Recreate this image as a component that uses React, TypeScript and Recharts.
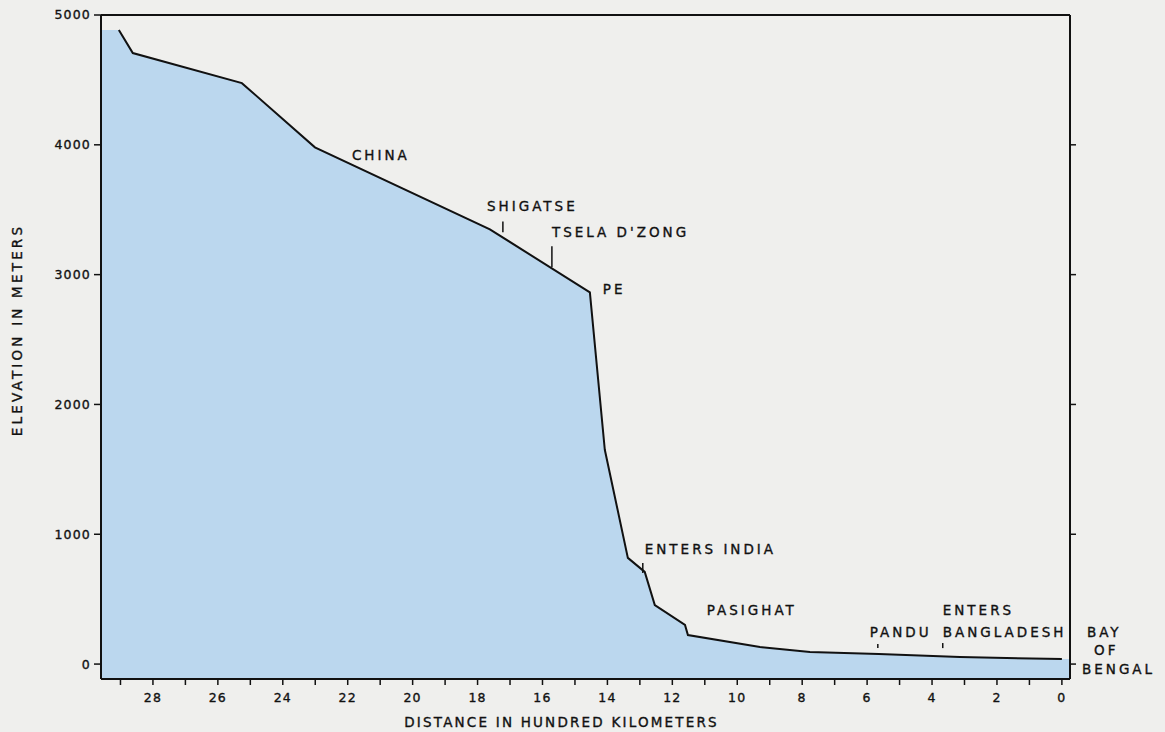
import React from 'react';
import {
  ComposedChart,
  Area,
  Line,
  XAxis,
  YAxis,
  Label,
  ReferenceLine,
  ReferenceDot,
} from 'recharts';

// River profile (distance in hundred km, elevation in m)
const DIST = [29.05, 28.62, 25.26, 23.01, 17.62, 14.54, 14.08, 13.37, 12.85, 12.54, 11.61, 11.52, 9.3, 7.76, 5.64, 3.14, 0];
const ELEV = [4884, 4707, 4475, 3981, 3349, 2863, 1651, 818, 710, 455, 301, 224, 131, 93, 77, 54, 39];

// axis ranges and ticks
const X_MIN = -0.25;
const X_MAX = 29.6;
const Y_MIN = -115;
const Y_MAX = 5000;
const X_TICKS = [0, 1, 2, 3, 4, 5, 6, 7, 8, 9, 10, 11, 12, 13, 14, 15, 16, 17, 18, 19, 20, 21, 22, 23, 24, 25, 26, 27, 28, 29];
const Y_TICKS = [0, 1000, 2000, 3000, 4000, 5000];

// place names
const LABEL_TEXT = ['CHINA', 'SHIGATSE', "TSELA D'ZONG", 'PE', 'ENTERS INDIA', 'PASIGHAT', 'PANDU', 'ENTERS', 'BANGLADESH', 'BAY', 'OF', 'BENGAL'];
const LABEL_DIST = [21.87, 17.71, 15.71, 14.14, 12.85, 10.94, 5.92, 3.67, 3.67, -0.77, -0.99, -0.62];
const LABEL_ELEV = [3920, 3526, 3326, 2886, 887, 417, 247, 417, 247, 247, 108, -39];

// small vertical markers on the profile
const MARK_DIST = [17.22, 15.71, 12.91, 5.67, 3.67];
const MARK_LOW = [3326, 3056, 702, 123, 123];
const MARK_HIGH = [3410, 3218, 779, 154, 162];

const INK = '#111';
const FONT = '"DejaVu Sans", sans-serif';

const profile = DIST.map((d, i) => ({ dist: d, elev: ELEV[i] }));
// shading runs flat out to both frame edges
const shade = [
  { dist: X_MAX, elev: ELEV[0] },
  ...profile,
  { dist: X_MIN, elev: ELEV[ELEV.length - 1] },
];

const heavy = { stroke: INK, strokeWidth: 0.35 };
const tickStyle = { fill: INK, fontFamily: FONT, fontSize: 12.5, letterSpacing: 1.2, ...heavy };

export default function App() {
  return (
    <div style={{ position: 'absolute', left: 0, top: 0, width: 1165, height: 732, background: '#efefed' }}>
      <ComposedChart
        width={1165}
        height={732}
        margin={{ top: 15, right: 85, bottom: 0, left: 0 }}
      >
        <XAxis
          dataKey="dist"
          type="number"
          domain={[X_MIN, X_MAX]}
          allowDataOverflow
          reversed
          ticks={X_TICKS}
          interval={0}
          tickFormatter={(v: number) => (v % 2 === 0 ? String(v) : '')}
          tick={tickStyle}
          tickSize={6}
          tickMargin={8}
          height={53}
          axisLine={{ stroke: INK, strokeWidth: 2 }}
          tickLine={{ stroke: INK, strokeWidth: 1.5 }}
        >
          <Label
            value="DISTANCE IN HUNDRED KILOMETERS"
            position="center"
            dx={-24}
            dy={16.5}
            style={{ fill: INK, fontFamily: FONT, fontSize: 13.5, letterSpacing: 2.2, ...heavy }}
          />
        </XAxis>
        <YAxis
          type="number"
          domain={[Y_MIN, Y_MAX]}
          allowDataOverflow
          ticks={Y_TICKS}
          interval={0}
          tick={tickStyle}
          tickSize={7}
          tickMargin={3}
          width={101}
          axisLine={{ stroke: INK, strokeWidth: 2 }}
          tickLine={{ stroke: INK, strokeWidth: 1.5 }}
        >
          <Label
            value="ELEVATION IN METERS"
            angle={-90}
            position="center"
            dx={-33.5}
            dy={-17}
            style={{ fill: INK, fontFamily: FONT, fontSize: 13.5, letterSpacing: 3.2, ...heavy }}
          />
        </YAxis>
        <YAxis
          yAxisId="right"
          orientation="right"
          type="number"
          domain={[Y_MIN, Y_MAX]}
          allowDataOverflow
          ticks={Y_TICKS.slice(0, -1)}
          interval={0}
          tickFormatter={() => ''}
          tickSize={6}
          width={10}
          axisLine={{ stroke: INK, strokeWidth: 2 }}
          tickLine={{ stroke: INK, strokeWidth: 1.5 }}
        />
        <ReferenceLine y={Y_MAX} stroke={INK} strokeWidth={2} ifOverflow="visible" />

        <Area
          data={shade}
          dataKey="elev"
          type="linear"
          baseValue={Y_MIN}
          stroke="none"
          fill="#bbd7ee"
          fillOpacity={1}
          isAnimationActive={false}
        />
        <Line
          data={profile}
          dataKey="elev"
          type="linear"
          stroke={INK}
          strokeWidth={2}
          dot={false}
          isAnimationActive={false}
        />

        {MARK_DIST.map((d, i) => (
          <ReferenceLine
            key={'m' + i}
            segment={[{ x: d, y: MARK_LOW[i] }, { x: d, y: MARK_HIGH[i] }]}
            stroke={INK}
            strokeWidth={1.5}
            ifOverflow="visible"
          />
        ))}

        {LABEL_TEXT.map((t, i) => (
          <ReferenceDot
            key={'l' + i}
            x={LABEL_DIST[i]}
            y={LABEL_ELEV[i]}
            r={0}
            ifOverflow="visible"
            shape={(p: any) => (
              <text
                x={p.cx}
                y={p.cy}
                dy="0.36em"
                fill={INK}
                stroke={INK}
                strokeWidth={0.35}
                fontFamily={FONT}
                fontSize={13.5}
                letterSpacing={3}
              >
                {t}
              </text>
            )}
          />
        ))}
      </ComposedChart>
    </div>
  );
}
